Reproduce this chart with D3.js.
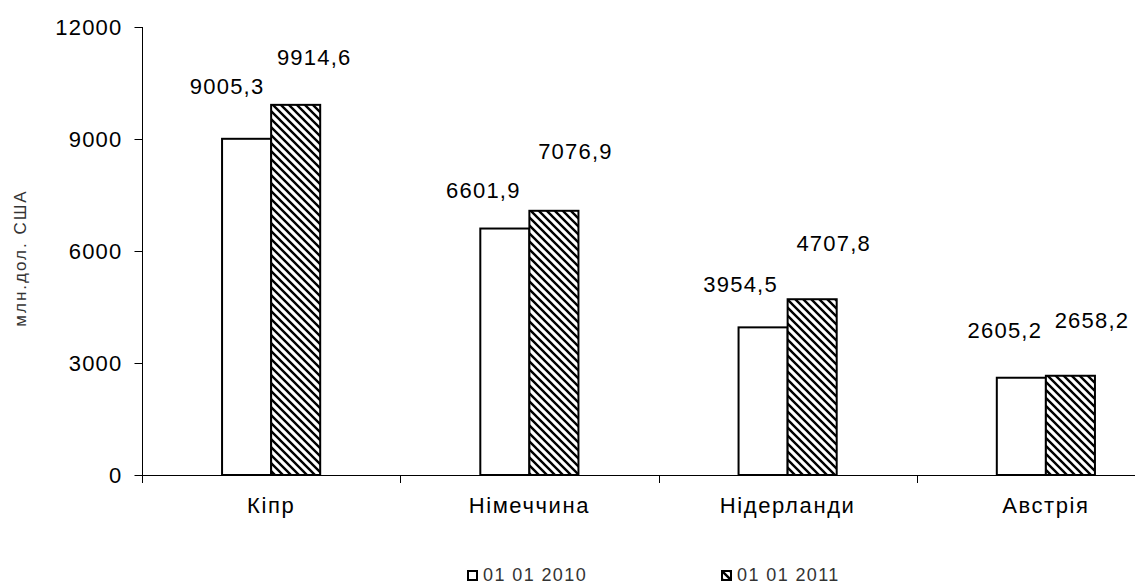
<!DOCTYPE html>
<html>
<head>
<meta charset="utf-8">
<script src="https://cdn.jsdelivr.net/npm/d3@7/dist/d3.min.js"></script>
<style>
  html, body { margin: 0; padding: 0; background: #fff; }
  svg { display: block; }
  text { font-family: "Liberation Sans", Arial, sans-serif; }
</style>
</head>
<body>
<svg id="chart" width="1135" height="586"></svg>
<script>
// ---- data ----
const categories = ["Кіпр", "Німеччина", "Нідерланди", "Австрія"];
const seriesNames = ["01 01 2010", "01 01 2011"];
const values2010 = [9005.3, 6601.9, 3954.5, 2605.2];
const values2011 = [9914.6, 7076.9, 4707.8, 2658.2];
const yTicks = [0, 3000, 6000, 9000, 12000];
const yTitle = "млн.дол. США";

// ---- label nudges (layout, manual placement as in original) ----
const labelDx2010 = [-20, -22, -23, -17];
const labelDx2011 = [18, 21, 21, 21];
const labelDy2010 = [-45, -31, -35, -40];
const labelDy2011 = [-40, -52, -48, -48];

const fmt = v => v.toFixed(1).replace(".", ",");

const svg = d3.select("#chart");
const W = 1135, H = 586;
const x0 = 142, yTop = 27, yBot = 475;

const x = d3.scaleBand().domain(categories).range([x0, 1175]).padding(0);
const y = d3.scaleLinear().domain([0, 12000]).range([yBot, yTop]);
const barW = x.bandwidth() * 0.19;

// pattern
const defs = svg.append("defs");
const pat = defs.append("pattern")
  .attr("id", "hatch").attr("patternUnits", "userSpaceOnUse")
  .attr("width", 8).attr("height", 8);
pat.append("rect").attr("width", 8).attr("height", 8).attr("fill", "#fff");
pat.append("path")
  .attr("d", "M-2,-2 L10,10 M-2,6 L2,10 M6,-2 L10,2")
  .attr("stroke", "#000").attr("stroke-width", 2.4);

const FS = 22, LS = "1.2px";

// y axis
const yAxis = d3.axisLeft(y).tickValues(yTicks).tickSize(8).tickPadding(12)
  .tickFormat(d => String(d));
const gy = svg.append("g").attr("transform", `translate(${x0 + 0.5},0)`).call(yAxis);
gy.select(".domain").attr("d", `M0,${yTop}V${yBot + 8}`).attr("stroke", "#000");
gy.selectAll(".tick line").attr("stroke", "#000");
gy.selectAll(".tick text")
  .attr("font-size", FS).attr("letter-spacing", LS).attr("fill", "#000")
  .attr("font-family", "'Liberation Sans', Arial, sans-serif")
  .attr("dy", "0.36em");

// x axis line & boundary ticks
svg.append("line").attr("x1", x0).attr("x2", W).attr("y1", yBot + 0.5).attr("y2", yBot + 0.5)
  .attr("stroke", "#000");
const bounds = categories.map(c => x(c)).concat([x(categories[categories.length - 1]) + x.bandwidth()]);
svg.selectAll(".xb").data(bounds.slice(1)).enter().append("line")
  .attr("x1", d => Math.round(d) + 0.5).attr("x2", d => Math.round(d) + 0.5)
  .attr("y1", yBot).attr("y2", yBot + 8).attr("stroke", "#000");

// category labels
const xAxis = d3.axisBottom(x).tickSize(0).tickPadding(0);
const gx = svg.append("g").attr("transform", `translate(0,${yBot})`).call(xAxis);
gx.select(".domain").remove();
gx.selectAll(".tick text")
  .attr("font-size", FS).attr("letter-spacing", "1.6px").attr("fill", "#000")
  .attr("font-family", "'Liberation Sans', Arial, sans-serif")
  .attr("dy", null).attr("y", 38);

// bars
const cx = c => x(c) + x.bandwidth() / 2;
svg.selectAll(".b2010").data(categories).enter().append("rect")
  .attr("x", c => cx(c) - barW).attr("y", (c, i) => y(values2010[i]))
  .attr("width", barW).attr("height", (c, i) => yBot - y(values2010[i]))
  .attr("fill", "#fff").attr("stroke", "#000").attr("stroke-width", 2);
svg.selectAll(".b2011").data(categories).enter().append("rect")
  .attr("x", c => cx(c)).attr("y", (c, i) => y(values2011[i]))
  .attr("width", barW).attr("height", (c, i) => yBot - y(values2011[i]))
  .attr("fill", "url(#hatch)").attr("stroke", "#000").attr("stroke-width", 2);

// data labels
svg.selectAll(".l2010").data(categories).enter().append("text")
  .attr("x", (c, i) => cx(c) - barW / 2 + labelDx2010[i] + 0.5)
  .attr("y", (c, i) => y(values2010[i]) + labelDy2010[i])
  .attr("text-anchor", "middle").attr("font-size", FS).attr("letter-spacing", LS)
  .text((c, i) => fmt(values2010[i]));
svg.selectAll(".l2011").data(categories).enter().append("text")
  .attr("x", (c, i) => cx(c) + barW / 2 + labelDx2011[i] + 0.5)
  .attr("y", (c, i) => y(values2011[i]) + labelDy2011[i])
  .attr("text-anchor", "middle").attr("font-size", FS).attr("letter-spacing", LS)
  .text((c, i) => fmt(values2011[i]));

// y title
svg.append("text")
  .attr("transform", `translate(26,258) rotate(-90)`)
  .attr("text-anchor", "middle").attr("font-size", 17).attr("letter-spacing", "2px")
  .attr("fill", "#333").text(yTitle);

// legend
const legendX = [467, 721];
const lg = svg.selectAll(".lg").data(seriesNames).enter().append("g")
  .attr("transform", (d, i) => `translate(${legendX[i]},570)`);
lg.append("rect").attr("x", 1).attr("y", 1).attr("width", 9).attr("height", 9)
  .attr("fill", (d, i) => i === 0 ? "#fff" : "url(#hatch)")
  .attr("stroke", "#000").attr("stroke-width", 2);
lg.append("text").attr("x", 16).attr("y", 11)
  .attr("font-size", 18).attr("letter-spacing", "1.4px").attr("fill", "#333")
  .text(d => d);
</script>
</body>
</html>
